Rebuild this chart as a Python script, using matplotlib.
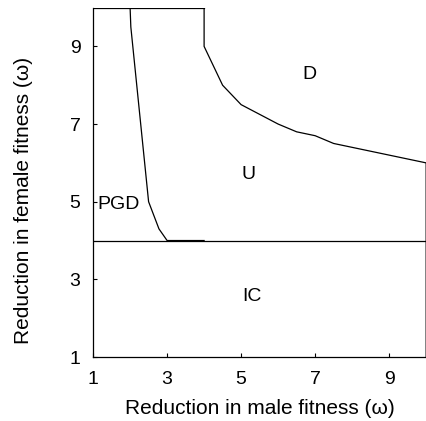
import matplotlib
matplotlib.use("Agg")
import matplotlib.pyplot as plt

plt.rcParams['font.family'] = ['Liberation Sans', 'DejaVu Sans']

# boundary between PGD and U
pgd_x = [2.0, 2.02, 2.5, 2.78, 3.0, 4.0]
pgd_y = [10.0, 9.5, 5.0, 4.3, 4.0, 4.0]

# boundary between U and D
d_x = [4.0, 4.0, 4.5, 5.0, 6.0, 6.5, 7.0, 7.5, 10.0, 10.0]
d_y = [10.0, 9.0, 8.0, 7.5, 7.0, 6.8, 6.7, 6.5, 6.0, 1.0]

# top edge and IC threshold
top_x = [1.0, 4.0]
top_y = [10.0, 10.0]
ic_level = 4.0

regions = ["D", "U", "PGD", "IC"]
region_x = [6.85, 5.2, 1.68, 5.3]
region_y = [8.27, 5.7, 4.92, 2.57]

ticks = [1, 3, 5, 7, 9]

fig = plt.figure(figsize=(4.27, 4.21), dpi=100)
ax = fig.add_axes([0.218, 0.152, 0.78, 0.83])

lw = 0.9
ax.plot(pgd_x, pgd_y, color='black', lw=lw)
ax.plot(d_x, d_y, color='black', lw=lw)
ax.plot(top_x, top_y, color='black', lw=lw)
ax.axhline(ic_level, color='black', lw=lw)

for lab, x, y in zip(regions, region_x, region_y):
    ax.text(x, y, lab, fontsize=14, ha='center', va='center')

ax.set_xlim(1, 10)
ax.set_ylim(1, 10)
ax.set_xticks(ticks)
ax.set_yticks(ticks)
ax.tick_params(direction='in', length=3, width=0.8, labelsize=14)
ax.tick_params(axis='x', pad=10)
ax.tick_params(axis='y', pad=9)
for s in ['top', 'right']:
    ax.spines[s].set_visible(False)
for s in ['left', 'bottom']:
    ax.spines[s].set_linewidth(0.9)

ax.set_xlabel('Reduction in male fitness (\u03c9)', fontsize=15, labelpad=8)
ax.set_ylabel('Reduction in female fitness (\u03c9)', fontsize=15)
ax.yaxis.set_label_coords(-0.18, 0.447)

fig.savefig('out.png', dpi=100)
